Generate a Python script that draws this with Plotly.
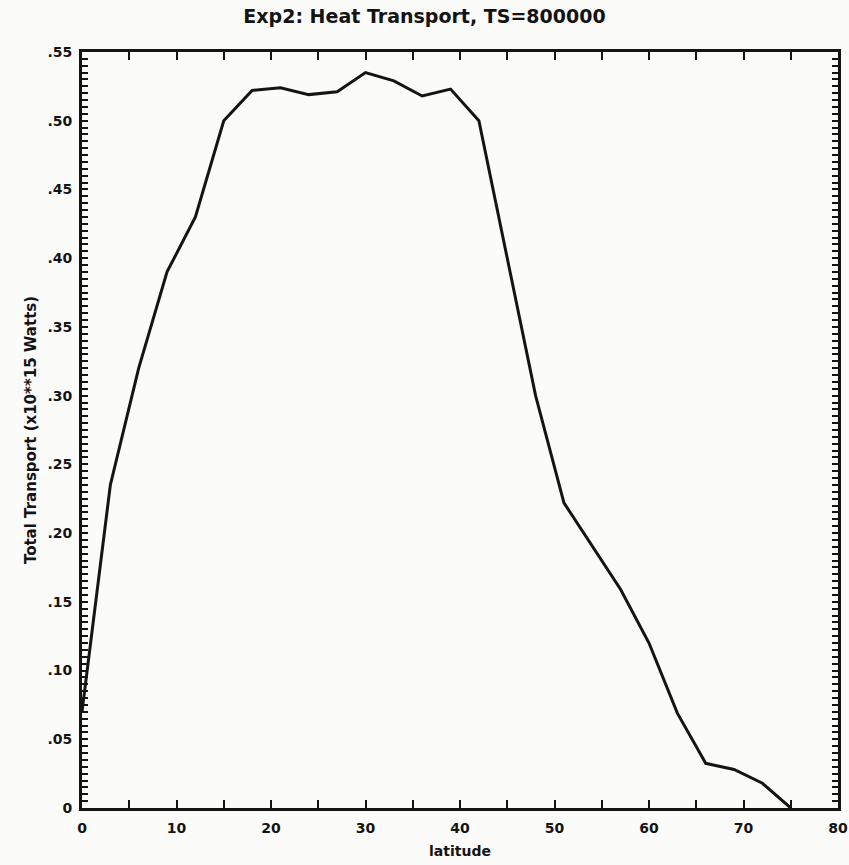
import plotly.graph_objects as go

# Data
latitude = [0, 3, 6, 9, 12, 15, 18, 21, 24, 27, 30, 33, 36, 39, 42, 45, 48, 51, 54, 57, 60, 63, 66, 69, 72, 75]
transport = [0.07, 0.235, 0.32, 0.39, 0.43, 0.50, 0.522, 0.524, 0.519, 0.521, 0.535, 0.529, 0.518, 0.523, 0.500,
             0.40, 0.30, 0.222, 0.190, 0.159, 0.120, 0.069, 0.0325, 0.028, 0.018, 0.0]

x_tickvals = [0, 10, 20, 30, 40, 50, 60, 70, 80]
x_ticktext = ["0", "10", "20", "30", "40", "50", "60", "70", "80"]
y_tickvals = [0, 0.05, 0.10, 0.15, 0.20, 0.25, 0.30, 0.35, 0.40, 0.45, 0.50, 0.55]
y_ticktext = ["0", ".05", ".10", ".15", ".20", ".25", ".30", ".35", ".40", ".45", ".50", ".55"]

title_text = "Exp2: Heat Transport, TS=800000"
x_title = "latitude"
y_title = "Total Transport (x10**15 Watts)"

font_family = "DejaVu Sans, Verdana, sans-serif"
ink = "#141414"

fig = go.Figure()
fig.add_trace(go.Scatter(
    x=latitude, y=transport, mode="lines",
    line=dict(color=ink, width=3),
    showlegend=False, hoverinfo="skip",
))

fig.update_layout(
    width=849, height=865,
    paper_bgcolor="#fbfbfa", plot_bgcolor="#fbfbfa",
    margin=dict(l=82, r=11, t=52, b=57, autoexpand=False),
    font=dict(family=font_family, color=ink, size=14, weight="bold"),
    title=dict(text=title_text, x=0.5, xanchor="center", y=0.981, yanchor="middle",
               font=dict(size=19, family=font_family, weight="bold")),
)

fig.update_xaxes(
    range=[0, 80], tickvals=x_tickvals, ticktext=x_ticktext,
    ticks="inside", ticklen=8, tickwidth=2, tickcolor=ink,
    minor=dict(dtick=5, ticks="inside", ticklen=8, tickwidth=2, tickcolor=ink),
    showline=True, linecolor=ink, linewidth=3, mirror="ticks",
    showgrid=False, zeroline=False, automargin=False,
    ticklabelstandoff=5,
    title=dict(text=x_title, standoff=12, font=dict(size=14)),
    tickfont=dict(size=14),
)
fig.update_yaxes(
    range=[0, 0.55], tickvals=y_tickvals, ticktext=y_ticktext,
    ticks="inside", ticklen=6, tickwidth=2, tickcolor=ink,
    minor=dict(dtick=0.005, tick0=0, ticks="inside", ticklen=6, tickwidth=2, tickcolor=ink),
    showline=True, linecolor=ink, linewidth=3, mirror="ticks",
    showgrid=False, zeroline=False, automargin=False,
    ticklabelstandoff=4,
    title=dict(text=y_title, standoff=8, font=dict(size=15)),
    tickfont=dict(size=14),
)

# remove the default page margin so the figure sits at the window origin
fig.write_html("out.html", config={"displayModeBar": False},
               post_script="document.body.style.margin='0';")
